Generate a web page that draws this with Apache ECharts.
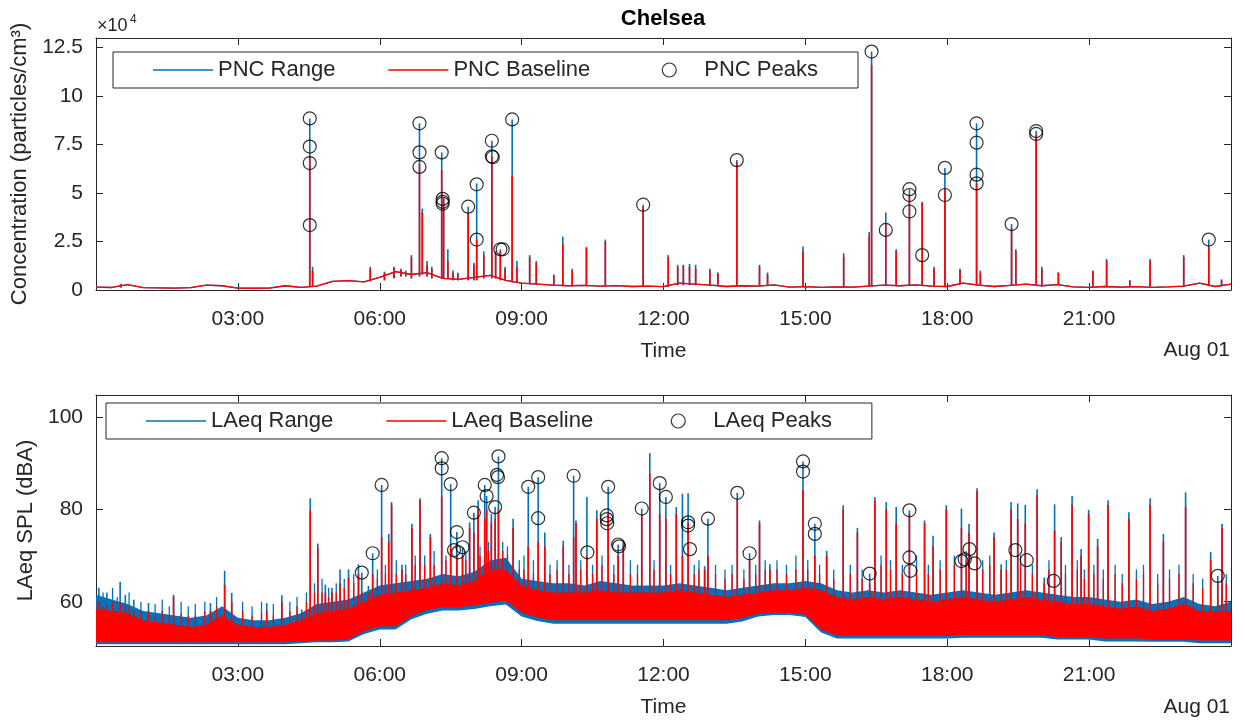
<!DOCTYPE html>
<html>
<head>
<meta charset="UTF-8">
<title>Chelsea</title>
<script src="https://cdn.jsdelivr.net/npm/echarts@6/dist/echarts.min.js"></script>
<style>
  html, body { margin: 0; padding: 0; background: #fff; }
  #chart { width: 1245px; height: 721px; }
</style>
</head>
<body>
<div id="chart"></div>
<script>
// background traces are sampled every 20 minutes, times in hours of Jul 31
var stepHours = 1 / 3;
var hourTicks = [3, 6, 9, 12, 15, 18, 21];
var pncTicks = [0, 25000, 50000, 75000, 100000, 125000];
var laeqTicks = [60, 80, 100];

// PNC (particles/cm3) background level
var pncBackground = [
  1500, 1300, 2800, 1200, 1100, 1000, 1200, 2500, 2200, 1000, 900, 1000,
  2200, 1400, 2000, 4500, 4800, 4200, 6500, 9500, 8000, 9000, 6000, 5500,
  6500, 7500, 5000, 3500, 3000, 2500, 2200, 2400, 2000, 2300, 1800, 2000,
  1700, 3500, 3000, 2500, 1800, 2200, 2000, 2600, 1500, 1700, 1400, 1600,
  1500, 2000, 2500, 2200, 2600, 2000, 1800, 3500, 2500, 1800, 2400, 3000,
  2200, 2800, 1600, 1400, 1800, 1500, 1700, 1400, 1600, 2000, 3500, 1800,
  3000
];
// PNC spikes: [hour, base, range top, baseline top]
var pncSpikes = [
  [0.53, 1300, 3200, 3000], [4.52, 1500, 88500, 69000], [4.58, 2000, 12000, 10000],
  [5.80, 4500, 12000, 11000], [6.10, 5000, 9500, 9000], [6.30, 6000, 12000, 11500],
  [6.45, 7000, 11000, 10500], [6.55, 7000, 10000, 9500],
  [6.67, 6000, 18000, 17000], [6.84, 7000, 86000, 65000], [6.90, 8000, 42000, 40000],
  [7.00, 7000, 15000, 13000], [7.10, 6000, 12000, 11000],
  [7.31, 6000, 71000, 62000], [7.35, 6000, 48000, 47000], [7.44, 6000, 21000, 15000],
  [7.55, 5000, 10000, 9000], [7.65, 5000, 9000, 8500],
  [7.87, 5000, 43000, 40000], [7.99, 5000, 14000, 13000], [8.05, 5000, 55000, 26000],
  [8.20, 6000, 20000, 18000], [8.37, 6000, 77000, 69000], [8.45, 6000, 20000, 19000],
  [8.55, 5000, 21000, 20000], [8.65, 5000, 12000, 11000],
  [8.80, 4000, 88000, 59000], [8.90, 4000, 15000, 12000],
  [9.17, 3000, 18000, 17000], [9.31, 3000, 15000, 14000], [9.68, 2500, 8000, 7500],
  [9.87, 2200, 27500, 24000], [10.07, 2200, 11000, 10000], [10.37, 2200, 22000, 22000],
  [10.77, 2000, 26000, 25000], [11.57, 2000, 44000, 43000], [12.10, 1700, 18000, 17000],
  [12.30, 2500, 13000, 12000], [12.42, 2500, 13000, 12500], [12.55, 2500, 13500, 12000],
  [12.68, 2500, 13000, 11000], [12.98, 2500, 11000, 10000], [13.15, 2000, 9000, 8500],
  [13.55, 2000, 67000, 66000], [14.03, 2000, 13000, 12000], [14.20, 2000, 9000, 8000],
  [14.95, 1500, 22500, 20000], [15.81, 1500, 19000, 17000], [16.35, 2000, 30000, 28000],
  [16.40, 2000, 123000, 116000], [16.70, 2500, 40000, 34000], [16.92, 2200, 21000, 20000],
  [17.20, 2500, 52000, 49000], [17.47, 2200, 45500, 45000], [17.72, 2000, 12000, 11000],
  [17.95, 1800, 63000, 52000], [18.27, 3000, 11000, 10500], [18.62, 2500, 86000, 55000],
  [18.70, 2500, 10000, 9000], [19.36, 2400, 34000, 32000], [19.45, 3000, 21000, 20000],
  [19.88, 3000, 82000, 80000], [20.00, 2500, 12000, 11000], [20.35, 2800, 9000, 9000],
  [21.08, 1500, 10000, 9500], [21.37, 1800, 16000, 15000], [21.86, 1500, 5000, 5000],
  [22.29, 1500, 16000, 15000], [23.00, 2000, 18000, 17000], [23.53, 2000, 26000, 22000],
  [23.80, 2000, 5500, 5000]
];
// PNC peaks: [hour, value]
var pncPeaks = [
  [4.52, 88500], [4.52, 74000], [4.52, 65500], [4.52, 33500],
  [6.84, 86000], [6.84, 71000], [6.84, 63500],
  [7.31, 71000], [7.33, 47000], [7.33, 45500], [7.33, 44500],
  [7.87, 43000], [8.05, 54500], [8.05, 26000],
  [8.37, 77000], [8.37, 69000], [8.39, 68500],
  [8.55, 21000], [8.60, 21000], [8.80, 88000],
  [11.57, 44000], [13.55, 67000], [16.40, 123000], [16.70, 31000],
  [17.20, 52000], [17.20, 49000], [17.20, 40500], [17.47, 18000],
  [17.95, 63000], [17.95, 49000],
  [18.62, 86000], [18.62, 76000], [18.62, 59500], [18.62, 55000],
  [19.36, 34000], [19.88, 82000], [19.88, 80500], [23.53, 26000]
];

// LAeq (dBA) bands of the dense traces
var laeqRangeHigh = [
  61.5, 60.5, 59.5, 58, 57.5, 57, 56.5, 57, 59, 56.5, 56, 56,
  56.5, 57.5, 59.5, 60, 60.5, 62, 63.5, 64, 64.5, 65, 66, 65.5,
  66.5, 69, 69.5, 65, 64.5, 64, 64, 63.5, 64.5, 64, 63.5, 63.5,
  63.5, 64, 63.5, 63, 62.5, 63, 63.5, 64, 64, 64.5, 64, 62.5,
  62, 62.5, 62, 62.5, 62, 61.5, 62, 62.5, 62, 61.5, 62, 62.5,
  62, 61.5, 61, 61, 60.5, 60, 60.5, 59.5, 60, 61, 59.5, 59,
  60
];
var laeqBaseHigh = [
  58.5, 58, 57.5, 56, 55.5, 55, 54.5, 55, 57, 55, 54.5, 54.5,
  55, 56, 57.5, 58, 58.5, 60, 61.5, 62, 62.5, 63, 64, 63.5,
  64.5, 67, 67, 63.5, 62.5, 62, 62, 62, 62.5, 62, 62, 62,
  62, 62.5, 62, 61.5, 61, 61.5, 62, 62.5, 62.5, 63, 62.5, 61,
  60.5, 61, 60.5, 61, 60.5, 60, 60.5, 61, 60.5, 60, 60.5, 61,
  60.5, 60, 59.5, 59.5, 59, 58.5, 59, 58, 58.5, 59.5, 58, 58,
  58
];
var laeqBaseLow = [
  51.2, 51.2, 51.2, 51.2, 51.2, 51.2, 51.2, 51.2, 51.2, 51.2, 51.2, 51.2,
  51.2, 51.4, 51.6, 51.6, 51.8, 53.6, 54.6, 54.6, 56.8, 58.2, 58.8, 58.8,
  59.2, 59.8, 60.2, 57.6, 56.6, 56, 56, 56, 56, 56, 56, 56,
  56, 56, 56, 56, 56, 56.4, 57.4, 57.6, 57.6, 57.2, 54, 52.6,
  52.6, 52.6, 52.6, 52.6, 52.6, 52.6, 52.6, 52.8, 52.8, 52.8, 52.8, 52.8,
  52.8, 52.3, 52.3, 52.3, 52, 52, 52, 51.8, 51.8, 51.8, 51.6, 51.6,
  51.6
];
var laeqRangeLow = [
  50.8, 50.8, 50.8, 50.8, 50.8, 50.8, 50.8, 50.8, 50.8, 50.8, 50.8, 50.8,
  50.8, 51, 51.2, 51.2, 51.4, 53, 54, 54, 56.2, 57.4, 58.1, 58.1,
  58.4, 59, 59.4, 56.8, 55.8, 55.2, 55.2, 55.2, 55.2, 55.2, 55.2, 55.2,
  55.2, 55.2, 55.2, 55.2, 55.2, 55.7, 56.8, 57.1, 57.1, 56.7, 53.3, 52,
  52, 52, 52, 52, 52, 52, 52, 52.2, 52.2, 52.2, 52.2, 52.2,
  52.2, 51.8, 51.8, 51.8, 51.4, 51.4, 51.4, 51.3, 51.3, 51.3, 51, 51,
  51
];
// LAeq spikes: [hour, base, range top, baseline top]
var laeqSpikes = [
  [0.06, 56, 63, 60], [0.23, 56, 62, 59], [0.51, 55, 64.3, 60], [0.62, 55, 61.5, 59],
  [0.80, 55, 60.4, 58], [1.11, 54, 59.7, 58], [1.64, 54, 61.5, 61], [2.42, 54, 59.7, 58],
  [2.72, 54, 66.7, 63.7], [2.87, 54, 61.9, 60], [3.61, 54, 59.7, 58], [3.93, 54, 61.4, 60],
  [4.35, 55, 58.3, 57.5], [4.53, 55, 82.4, 79.8], [4.69, 56, 72.6, 71.8], [4.85, 56, 63.7, 62],
  [4.99, 56, 63, 62], [5.16, 57, 67, 64], [5.34, 57, 67, 65.2], [5.55, 57, 68.1, 66],
  [5.62, 57, 66.3, 62], [5.76, 57, 63.4, 62], [5.85, 58, 70.5, 66], [6.04, 59, 85.3, 74],
  [6.19, 59, 74.7, 73], [6.25, 59, 81.6, 81], [6.47, 59, 68, 67], [6.68, 60, 76.9, 76],
  [6.85, 60, 82.4, 82], [7.07, 61, 74.7, 74], [7.31, 61, 91.1, 82.8], [7.50, 61, 85.5, 72],
  [7.63, 61, 75.1, 70], [7.75, 61, 71.8, 70], [7.90, 62, 77.2, 76], [7.99, 62, 79.3, 75],
  [8.08, 62, 82, 80], [8.22, 62, 85.3, 78], [8.26, 62, 82.9, 80], [8.36, 63, 79, 77],
  [8.44, 64, 80.5, 78], [8.51, 64, 91.5, 80], [8.82, 62, 78, 76], [9.14, 60, 84.9, 72],
  [9.35, 60, 87, 73], [9.49, 60, 75, 72], [9.88, 60, 73.2, 72], [10.10, 60, 87.3, 74],
  [10.15, 60, 77.6, 77], [10.38, 60, 82.7, 70], [10.59, 60, 79.8, 78], [10.83, 60, 84.9, 79],
  [11.04, 60, 72.4, 70], [11.15, 60, 73.2, 72], [11.54, 60, 80.2, 79], [11.71, 60, 92.2, 87.8],
  [11.92, 60, 85.7, 79], [12.05, 60, 82.7, 78], [12.27, 60, 80.5, 79], [12.40, 60, 83.4, 70],
  [12.52, 60, 83.5, 77], [12.87, 60, 67.7, 67], [12.94, 60, 78, 70], [13.56, 60, 83.6, 82],
  [13.82, 60, 70.5, 69], [14.03, 60, 77.6, 77], [14.25, 60, 68.1, 67], [14.95, 60, 90.4, 84.2],
  [15.20, 60, 76.9, 70], [15.45, 58, 71, 70], [15.80, 57, 80.9, 80], [16.10, 57, 76, 75],
  [16.36, 57, 66.1, 64], [16.47, 57, 82.7, 82], [16.71, 57, 81.6, 80], [16.92, 57, 80.5, 77],
  [17.20, 57, 79.8, 79], [17.52, 57, 77.6, 77], [17.70, 57, 74.3, 72], [17.98, 57, 80.9, 80],
  [18.30, 57, 80.2, 76], [18.46, 57, 76.9, 75], [18.63, 57, 84.6, 84], [18.99, 57, 75, 74],
  [19.14, 57, 68.1, 67], [19.35, 57, 81.6, 80], [19.49, 57, 81.3, 78], [19.65, 57, 81, 77],
  [19.90, 57, 84.4, 83], [20.05, 57, 65.2, 64], [20.27, 57, 81.1, 75.4], [20.41, 57, 74, 73],
  [20.64, 57, 82.9, 81], [20.83, 57, 71.4, 70], [20.99, 57, 79.9, 79], [21.18, 57, 73.6, 72],
  [21.40, 57, 82, 81], [21.84, 57, 79.4, 78], [22.29, 57, 82.4, 81], [22.57, 57, 74.7, 73],
  [23.04, 57, 83.7, 80.5], [23.57, 56, 70.8, 69], [23.72, 56, 65.6, 64], [23.81, 56, 76.9, 76]
];
// small LAeq excursions just above the dense band: [hour, base, range top, baseline top]
var laeqMinorSpikes = [
  [0.15, 55, 62, 59], [0.35, 55, 63, 60], [0.45, 55, 61, 58], [0.70, 55, 62, 59],
  [0.95, 54, 60, 58], [1.25, 54, 59.5, 57], [1.40, 54, 60.5, 58], [1.55, 54, 59, 57],
  [1.80, 54, 60, 57.5], [1.95, 54, 59, 57], [2.10, 54, 59.5, 57], [2.30, 54, 60, 58],
  [2.55, 54, 61, 59], [3.10, 54, 60, 58], [3.30, 54, 59, 57], [3.50, 54, 60, 57.5],
  [3.75, 54, 59.5, 57], [4.10, 54, 60, 58], [4.25, 55, 61, 59], [4.45, 55, 62, 60],
  [4.62, 56, 64, 62], [4.78, 56, 65, 62], [4.92, 56, 63, 61], [5.08, 56, 64, 62],
  [5.25, 57, 65, 63], [5.45, 57, 66, 64], [5.95, 58, 67, 65], [6.12, 59, 68, 66],
  [6.35, 59, 69, 66], [6.55, 59, 68, 66], [6.75, 60, 70, 68], [6.95, 61, 70, 68],
  [7.15, 61, 71, 68], [7.40, 61, 70, 69], [7.82, 62, 71, 69], [8.12, 62, 72, 70],
  [8.30, 63, 73, 71], [8.60, 64, 73, 71], [8.70, 63, 72, 70], [8.95, 62, 69, 67],
  [9.05, 61, 70, 67], [9.25, 60, 69, 66], [9.60, 60, 68, 66], [9.75, 60, 69, 67],
  [10.00, 60, 68, 66], [10.25, 60, 69, 67], [10.50, 60, 68, 66], [10.70, 60, 70, 68],
  [10.95, 60, 68, 66], [11.30, 60, 69, 66], [11.45, 60, 68, 66], [11.80, 60, 69, 67],
  [12.15, 60, 68, 66], [12.65, 60, 68, 66], [12.75, 60, 69, 67], [13.10, 60, 68, 66],
  [13.30, 60, 67, 65], [13.45, 60, 68, 66], [13.70, 60, 67, 65], [13.95, 60, 68, 66],
  [14.15, 60, 69, 67], [14.40, 60, 69, 67], [14.60, 60, 68, 66], [14.80, 60, 70, 67],
  [15.05, 60, 69, 67], [15.30, 58, 68, 66], [15.60, 57, 67, 65], [15.95, 57, 68, 66],
  [16.20, 57, 67, 65], [16.60, 57, 70, 68], [16.80, 57, 69, 67], [17.05, 57, 68, 66],
  [17.35, 57, 70, 67], [17.60, 57, 68, 66], [17.85, 57, 69, 67], [18.15, 57, 70, 68],
  [18.40, 57, 71, 69], [18.75, 57, 69, 67], [18.90, 57, 70, 68], [19.25, 57, 69, 67],
  [19.55, 57, 70, 68], [19.80, 57, 68, 66], [20.15, 57, 69, 67], [20.50, 57, 68, 66],
  [20.75, 57, 69, 67], [20.90, 57, 67, 65], [21.10, 57, 68, 66], [21.30, 57, 67, 65],
  [21.55, 57, 68, 66], [21.70, 57, 66, 64], [22.00, 57, 67, 65], [22.15, 57, 68, 66],
  [22.45, 57, 66, 64], [22.70, 57, 67, 65], [22.90, 57, 68, 66], [23.20, 56, 66, 64],
  [23.40, 56, 65, 63], [23.90, 56, 66, 64]
];
// LAeq peaks: [hour, value]
var laeqPeaks = [
  [5.62, 66.3], [5.85, 70.5], [6.04, 85.3], [7.31, 91.1], [7.31, 88.9], [7.50, 85.5],
  [7.57, 71.2], [7.63, 75.1], [7.66, 70.7], [7.75, 71.8], [7.99, 79.3],
  [8.22, 85.3], [8.26, 82.9], [8.44, 80.5], [8.48, 87.5], [8.50, 87.0], [8.51, 91.5],
  [9.14, 84.9], [9.35, 87.0], [9.35, 78.1], [10.10, 87.3], [10.39, 70.7],
  [10.83, 84.9], [10.80, 78.7], [10.80, 77.9], [10.81, 77.0], [11.04, 72.4], [11.06, 72.0],
  [11.54, 80.2], [11.92, 85.7], [12.05, 82.7], [12.52, 77.2], [12.52, 76.5], [12.56, 71.4],
  [12.94, 78.0], [13.56, 83.6], [13.82, 70.5], [14.95, 90.4], [14.95, 88.2],
  [15.20, 76.9], [15.20, 74.7], [16.36, 66.1], [17.20, 79.8], [17.20, 69.6], [17.22, 66.7],
  [18.30, 68.8], [18.37, 69.2], [18.47, 71.4], [18.58, 68.3], [19.44, 71.2], [19.68, 69.0],
  [20.25, 64.5], [23.72, 65.6]
];

var blue = '#0072BD';
var red = '#FF0000';
var ink = '#262626';
var font = '"Liberation Sans", Arial, sans-serif';

function hourLabel(v) {
  return (v < 10 ? '0' : '') + v + ':00';
}

function timeAxis(grid, pos, withLabels) {
  return {
    type: 'value', gridIndex: grid, position: pos, min: 0, max: 24,
    axisLine: { show: true, onZero: false, lineStyle: { color: ink, width: 1 } },
    axisTick: { show: true, inside: true, length: 7, customValues: hourTicks, lineStyle: { color: ink } },
    axisLabel: {
      show: withLabels, customValues: hourTicks, margin: 19,
      color: ink, fontSize: 21, fontFamily: font, formatter: hourLabel
    },
    splitLine: { show: false },
    name: withLabels ? 'Time' : '', nameLocation: 'middle', nameGap: 51,
    nameTextStyle: { color: ink, fontSize: 21, fontFamily: font }
  };
}

function valueAxis(grid, pos, min, max, ticks, fmt, name, gap) {
  var left = pos === 'left';
  return {
    type: 'value', gridIndex: grid, position: pos, min: min, max: max,
    axisLine: { show: true, onZero: false, lineStyle: { color: ink, width: 1 } },
    axisTick: { show: true, inside: true, length: 7, customValues: ticks, lineStyle: { color: ink } },
    axisLabel: {
      show: left, customValues: ticks, margin: 13,
      color: ink, fontSize: 21, fontFamily: font, formatter: fmt
    },
    splitLine: { show: false },
    name: left ? name : '', nameLocation: 'middle', nameGap: gap,
    nameTextStyle: { color: ink, fontSize: 22, fontFamily: font }
  };
}

// one vertical line per spike, from its base to the chosen top column
function spikeRenderer(color, col, width) {
  return function (params, api) {
    var p0 = api.coord([api.value(0), api.value(1)]);
    var p1 = api.coord([api.value(0), api.value(col)]);
    return {
      type: 'line',
      shape: { x1: p0[0], y1: p0[1], x2: p1[0], y2: p1[1] },
      style: { stroke: color, lineWidth: width }
    };
  };
}

// filled band between a low and a high trace
function bandRenderer(low, high, color) {
  return function (params, api) {
    if (params.dataIndex !== 0) return null;
    var pts = [];
    for (var i = 0; i < high.length; i++) pts.push(api.coord([i * stepHours, high[i]]));
    for (var j = low.length - 1; j >= 0; j--) pts.push(api.coord([j * stepHours, low[j]]));
    return { type: 'polygon', shape: { points: pts }, style: { fill: color } };
  };
}

function bandData(low, high) {
  return high.map(function (v, i) { return [i * stepHours, low[i], v]; });
}

var lineIcon = 'path://M0,0L60,0L60,1.5L0,1.5Z';
var ringStyle = { color: 'rgba(0,0,0,0)', borderColor: '#000', borderWidth: 1.2 };

// trailing spaces after the middle entry widen the gap before the peaks entry
function legendBox(left, top, names, pad) {
  return {
    left: left, top: top, orient: 'horizontal',
    itemWidth: 60, itemHeight: 14, itemGap: 53,
    padding: [7, 40, 7, 40],
    borderColor: ink, borderWidth: 1, backgroundColor: '#fff',
    textStyle: { color: ink, fontSize: 22, fontFamily: font },
    selectedMode: false,
    formatter: function (name) { return name === names[1] ? name + pad : name; },
    data: [
      { name: names[0], icon: lineIcon, itemStyle: { color: blue } },
      { name: names[1], icon: lineIcon, itemStyle: { color: red } },
      { name: names[2], icon: 'circle', itemStyle: ringStyle }
    ]
  };
}

var chart = echarts.init(document.getElementById('chart'));
chart.setOption({
  animation: false,
  backgroundColor: '#fff',
  grid: [
    { left: 96, right: 14, top: 38, height: 252 },
    { left: 96, right: 14, top: 395, height: 251 }
  ],
  legend: [
    legendBox(113, 52, ['PNC Range', 'PNC Baseline', 'PNC Peaks'], '   '),
    legendBox(106, 403, ['LAeq Range', 'LAeq Baseline', 'LAeq Peaks'], '    ')
  ],
  xAxis: [
    timeAxis(0, 'bottom', true), timeAxis(0, 'top', false),
    timeAxis(1, 'bottom', true), timeAxis(1, 'top', false)
  ],
  yAxis: [
    valueAxis(0, 'left', 0, 130000, pncTicks, function (v) { return String(v / 10000); },
      'Concentration (particles/cm\u00b3)', 64),
    valueAxis(0, 'right', 0, 130000, pncTicks, null, '', 0),
    valueAxis(1, 'left', 50.4, 104.8, laeqTicks, function (v) { return String(v); },
      'LAeq SPL (dBA)', 57),
    valueAxis(1, 'right', 50.4, 104.8, laeqTicks, null, '', 0)
  ],
  graphic: [
    { type: 'text', x: 663, y: 19, style: { text: 'Chelsea', fill: '#000', font: 'bold 22px ' + font, textAlign: 'center', textVerticalAlign: 'middle' } },
    { type: 'text', x: 97, y: 26, style: { text: '\u00d710', fill: ink, font: '18px ' + font, textVerticalAlign: 'middle' } },
    { type: 'text', x: 130, y: 20, style: { text: '4', fill: ink, font: '12px ' + font, textVerticalAlign: 'middle' } },
    { type: 'text', x: 1230, y: 350, style: { text: 'Aug 01', fill: ink, font: '21px ' + font, textAlign: 'right', textVerticalAlign: 'middle' } },
    { type: 'text', x: 1230, y: 707, style: { text: 'Aug 01', fill: ink, font: '21px ' + font, textAlign: 'right', textVerticalAlign: 'middle' } }
  ],
  series: [
    {
      name: 'PNC Range', type: 'line', xAxisIndex: 0, yAxisIndex: 0,
      data: pncBackground.map(function (v, i) { return [i * stepHours, v]; }),
      symbol: 'none', lineStyle: { color: blue, width: 1.3 }, itemStyle: { color: blue }
    },
    {
      name: 'PNC Range', type: 'custom', xAxisIndex: 0, yAxisIndex: 0,
      data: pncSpikes, encode: { x: 0, y: [1, 2, 3] },
      renderItem: spikeRenderer(blue, 2, 1.6), itemStyle: { color: blue }
    },
    {
      name: 'PNC Baseline', type: 'line', xAxisIndex: 0, yAxisIndex: 0,
      data: pncBackground.map(function (v, i) { return [i * stepHours, v]; }),
      symbol: 'none', lineStyle: { color: red, width: 1.3 }, itemStyle: { color: red }
    },
    {
      name: 'PNC Baseline', type: 'custom', xAxisIndex: 0, yAxisIndex: 0,
      data: pncSpikes, encode: { x: 0, y: [1, 2, 3] },
      renderItem: spikeRenderer(red, 3, 1.6), itemStyle: { color: red }
    },
    {
      name: 'PNC Peaks', type: 'scatter', xAxisIndex: 0, yAxisIndex: 0,
      data: pncPeaks, symbol: 'circle', symbolSize: 13, itemStyle: ringStyle, z: 5
    },
    {
      name: 'LAeq Range', type: 'custom', xAxisIndex: 2, yAxisIndex: 2,
      data: bandData(laeqRangeLow, laeqRangeHigh), encode: { x: 0, y: [1, 2] },
      renderItem: bandRenderer(laeqRangeLow, laeqRangeHigh, blue), itemStyle: { color: blue }
    },
    {
      name: 'LAeq Range', type: 'custom', xAxisIndex: 2, yAxisIndex: 2,
      data: laeqMinorSpikes, encode: { x: 0, y: [1, 2, 3] },
      renderItem: spikeRenderer(blue, 2, 1.3), itemStyle: { color: blue }
    },
    {
      name: 'LAeq Range', type: 'custom', xAxisIndex: 2, yAxisIndex: 2,
      data: laeqSpikes, encode: { x: 0, y: [1, 2, 3] },
      renderItem: spikeRenderer(blue, 2, 1.6), itemStyle: { color: blue }
    },
    {
      name: 'LAeq Baseline', type: 'custom', xAxisIndex: 2, yAxisIndex: 2,
      data: bandData(laeqBaseLow, laeqBaseHigh), encode: { x: 0, y: [1, 2] },
      renderItem: bandRenderer(laeqBaseLow, laeqBaseHigh, red), itemStyle: { color: red }
    },
    {
      name: 'LAeq Baseline', type: 'custom', xAxisIndex: 2, yAxisIndex: 2,
      data: laeqMinorSpikes, encode: { x: 0, y: [1, 2, 3] },
      renderItem: spikeRenderer(red, 3, 1.3), itemStyle: { color: red }
    },
    {
      name: 'LAeq Baseline', type: 'custom', xAxisIndex: 2, yAxisIndex: 2,
      data: laeqSpikes, encode: { x: 0, y: [1, 2, 3] },
      renderItem: spikeRenderer(red, 3, 1.6), itemStyle: { color: red }
    },
    {
      name: 'LAeq Peaks', type: 'scatter', xAxisIndex: 2, yAxisIndex: 2,
      data: laeqPeaks, symbol: 'circle', symbolSize: 13, itemStyle: ringStyle, z: 5
    }
  ]
});
</script>
</body>
</html>
